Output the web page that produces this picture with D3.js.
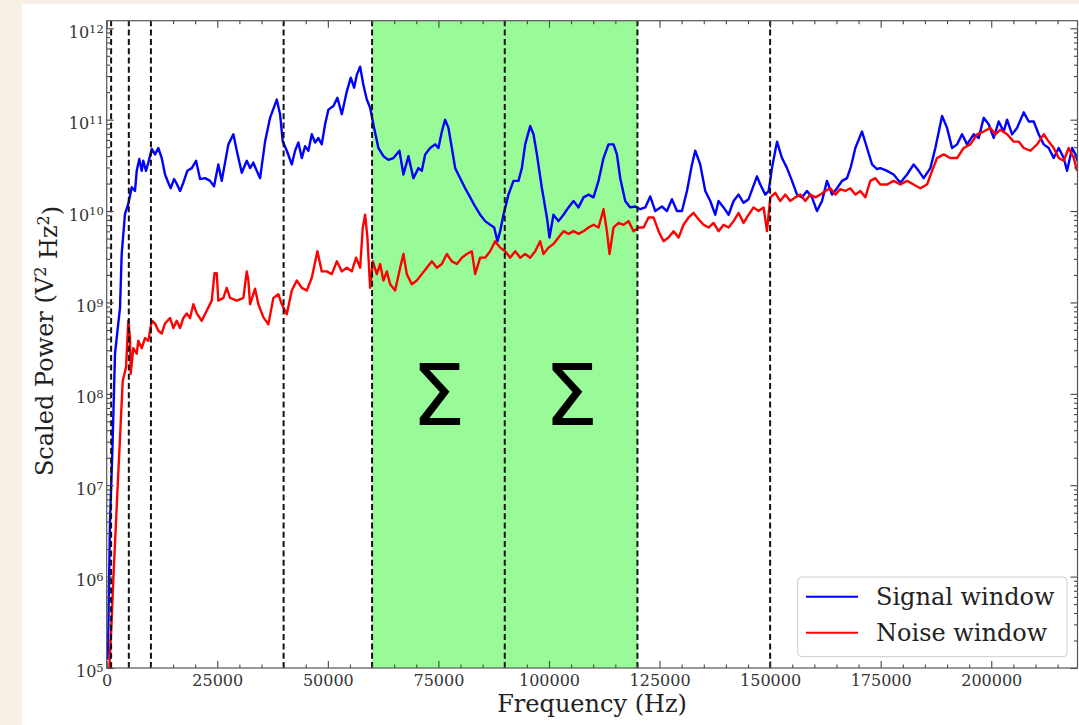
<!DOCTYPE html>
<html><head><meta charset="utf-8">
<script src="https://cdn.jsdelivr.net/npm/d3@7"></script>
<style>
html,body{margin:0;padding:0;background:#f8f0e7;}
svg{display:block;}
</style></head>
<body>
<svg id="chart" width="1079" height="725"></svg>
<script>
// ---------------- data ----------------
const signalFreq = [180,360,750,1270,1880,2620,3010,3390,4140,4890,
5660,6400,6790,7370,7920,8280,8890,9410,10180,10930,
11670,12440,13190,13930,14480,15220,15830,16580,17330,18230,
19230,20200,21110,22240,23370,24270,25240,26010,27510,28640,
29410,30540,31670,32420,33160,33930,34680,35810,36940,38450,
39200,39810,40720,41850,42590,43340,44110,44860,45600,46370,
47120,47860,48630,49380,50130,51260,52160,53160,54290,55190,
55940,56550,57300,58040,58810,59560,60460,61440,62570,63700,
64830,66190,67090,68220,69350,70480,71250,72000,73130,74260,
75010,75780,76520,77270,78040,78790,79920,81050,82180,83310,
84440,85570,86700,87610,88350,88960,89710,90840,91970,93100,
93870,94620,95750,96500,97270,98400,99530,100120,101020,102150,
103280,104410,105550,106680,107810,108940,110070,111200,112330,113460,
114590,115360,116110,117240,118370,119500,120630,121760,122890,124030,
125540,126670,127800,128930,130070,131200,132330,133070,134200,135340,
136470,137600,138340,139480,140610,141740,142870,144000,145130,147030,
147780,148910,149660,150420,151560,152690,153820,154950,156080,157210,
158340,159470,160600,161730,162860,164000,165130,166260,167390,168290,
169270,170780,171910,173040,174170,174920,176440,177930,179440,180960,
182450,183580,184720,186230,187360,188880,190010,191140,192270,193400,
194530,196030,197160,198290,199420,200550,201680,202810,203580,204710,
205840,207340,208470,209600,210730,211860,212990,214120,215250,216380,
217150,218280,219030,219780];
// log10 of scaled power (V^2 Hz^2)
const signalLogPower = [5.09,5.38,6.62,7.35,8.44,8.77,8.94,9.53,9.97,10.08,
10.26,10.22,10.44,10.57,10.44,10.55,10.44,10.53,10.68,10.62,
10.69,10.58,10.40,10.31,10.25,10.35,10.30,10.22,10.31,10.44,
10.47,10.55,10.35,10.36,10.33,10.27,10.51,10.33,10.73,10.84,
10.66,10.42,10.55,10.47,10.53,10.44,10.36,10.76,11.02,11.22,
11.06,10.76,10.66,10.51,10.66,10.75,10.58,10.71,10.66,10.84,
10.75,10.80,10.73,10.95,11.11,11.15,11.24,11.06,11.31,11.46,
11.35,11.49,11.58,11.38,11.22,11.13,10.91,10.69,10.60,10.56,
10.58,10.66,10.40,10.60,10.36,10.47,10.44,10.62,10.69,10.73,
10.69,10.87,11.00,10.91,10.69,10.47,10.36,10.25,10.15,10.05,
9.96,9.89,9.85,9.82,9.67,9.78,9.96,10.18,10.33,10.33,
10.47,10.73,10.93,10.84,10.62,10.25,9.93,9.71,9.96,9.89,
9.96,10.04,10.11,10.04,10.15,10.18,10.15,10.33,10.58,10.73,
10.73,10.62,10.36,10.11,10.04,10.05,10.02,10.04,10.16,10.00,
10.05,10.00,10.13,10.00,10.00,10.22,10.51,10.66,10.51,10.22,
10.11,9.96,10.11,10.04,9.96,10.11,10.18,10.09,10.13,10.38,
10.29,10.18,10.22,10.47,10.76,10.58,10.47,10.33,10.18,10.15,
10.22,10.15,10.00,10.11,10.33,10.18,10.25,10.33,10.36,10.49,
10.69,10.87,10.69,10.51,10.46,10.47,10.44,10.40,10.31,10.40,
10.51,10.44,10.36,10.47,10.69,11.04,10.91,10.69,10.73,10.84,
10.73,10.84,10.80,11.02,10.95,10.80,10.98,10.87,11.00,10.84,
10.91,11.08,10.98,10.98,10.84,10.73,10.69,10.58,10.69,10.58,
10.44,10.69,10.62,10.51];

const noiseFreq = [600,1100,1490,2490,3010,3620,4370,4890,5270,5430,
6020,6790,7150,7920,8660,9410,10180,10930,11670,12440,
13190,14320,15070,15830,16580,17330,18100,18840,19590,20360,
21490,22620,23750,24380,24880,25240,26380,27140,27890,29410,
30900,31670,32030,32420,33550,34290,35420,36550,37690,38820,
39590,40720,41850,42980,44110,45240,46370,47640,48630,49760,
50900,52030,53160,54290,55420,56390,57300,57910,58430,58950,
59560,60170,61070,61830,62570,63340,64080,65210,66350,67090,
67860,68990,70120,71250,72380,73520,74650,75780,76910,78040,
79170,80300,81430,82560,83310,84440,85570,86700,87830,88960,
90100,91230,92360,93490,94620,95750,96880,98010,98760,99890,
101020,102150,103280,104410,105550,106680,107810,108940,110070,111200,
112330,113100,113690,114590,115720,116860,117990,119120,120250,121380,
122510,123640,124770,125900,127030,128170,129300,130430,131560,132690,
133820,134950,136080,137210,138340,139480,140610,141740,142870,144000,
145130,146260,147390,148520,149290,150040,151170,152300,153430,154560,
155690,156820,157960,159090,160220,161350,162480,163610,164740,165870,
167000,168130,169270,170400,171530,172660,173790,174920,176440,177930,
179440,180960,182450,183960,185480,186620,187750,189240,190750,192270,
193760,195280,196790,198290,199800,200930,202070,203580,205070,206200,
207340,208850,210370,211860,212990,214120,215250,216380,217510,218650,
219410];
const noiseLogPower = [5.00,5.50,5.96,7.00,7.52,8.14,8.29,8.80,8.61,8.22,
8.50,8.44,8.58,8.50,8.61,8.58,8.80,8.77,8.69,8.66,
8.77,8.83,8.72,8.80,8.72,8.83,8.88,8.83,8.98,8.88,
8.80,8.91,9.02,9.32,9.32,9.02,9.05,9.16,9.05,9.02,
9.05,9.34,9.24,8.98,9.15,8.98,8.84,8.76,9.05,9.09,
8.98,8.87,9.13,9.24,9.16,9.13,9.27,9.56,9.34,9.34,
9.31,9.45,9.34,9.38,9.34,9.49,9.38,9.82,9.96,9.71,
9.16,9.45,9.31,9.42,9.24,9.34,9.20,9.13,9.38,9.53,
9.31,9.20,9.24,9.31,9.38,9.45,9.38,9.42,9.53,9.45,
9.42,9.49,9.53,9.56,9.31,9.49,9.49,9.56,9.67,9.60,
9.56,9.49,9.56,9.49,9.53,9.49,9.56,9.67,9.53,9.60,
9.64,9.71,9.78,9.75,9.78,9.75,9.78,9.82,9.85,9.82,
10.02,9.78,9.53,9.82,9.87,9.85,9.89,9.78,9.82,9.82,
9.93,9.93,9.78,9.67,9.71,9.78,9.71,9.85,9.93,9.98,
9.91,9.85,9.82,9.87,9.78,9.85,9.82,9.89,9.98,9.87,
9.96,10.04,10.00,10.04,9.78,10.15,10.20,10.11,10.18,10.11,
10.15,10.18,10.11,10.18,10.15,10.18,10.22,10.25,10.18,10.24,
10.22,10.25,10.18,10.22,10.15,10.33,10.36,10.29,10.29,10.33,
10.29,10.33,10.29,10.25,10.29,10.44,10.58,10.62,10.58,10.58,
10.69,10.73,10.84,10.87,10.91,10.84,10.89,10.84,10.76,10.76,
10.69,10.66,10.73,10.84,10.76,10.69,10.58,10.55,10.69,10.58,
10.44];

const markerFreqs = [1000, 5000, 10000, 40000, 60000, 90000, 120000, 150000];
const sumBands = [[60000, 90000], [90000, 120000]];
const xTickValues = [0, 25000, 50000, 75000, 100000, 125000, 150000, 175000, 200000];
const yTickExponents = [5, 6, 7, 8, 9, 10, 11, 12];
const seriesNames = ["Signal window", "Noise window"];
const seriesColors = ["#0000ff", "#ff0000"];
const xLabel = "Frequency (Hz)";

// ---------------- layout ----------------
const W = 1079, H = 725;
const P = {left: 106.7, right: 1077.5, top: 20.7, bottom: 668};
const SERIF = "'DejaVu Serif', serif";

const svg = d3.select("#chart");
svg.append("rect").attr("width", W).attr("height", H).attr("fill", "#f8f0e7");
svg.append("rect").attr("x", 22).attr("y", 4).attr("width", W - 22).attr("height", H - 4).attr("fill", "#ffffff");

const x = d3.scaleLinear().domain([0, 219500]).range([P.left, P.right]);
const y = d3.scaleLog().domain([1e5, Math.pow(10, 12.083)]).range([P.bottom, P.top]);

svg.append("defs").append("clipPath").attr("id", "clip")
  .append("rect").attr("x", P.left).attr("y", P.top)
  .attr("width", P.right - P.left).attr("height", P.bottom - P.top);

const plotG = svg.append("g").attr("clip-path", "url(#clip)");

// shaded summation bands
plotG.selectAll("rect.band").data(sumBands).join("rect").attr("class", "band")
  .attr("x", d => x(d[0])).attr("width", d => x(d[1]) - x(d[0]))
  .attr("y", P.top).attr("height", P.bottom - P.top)
  .attr("fill", "#98fb98");

// series
const signal = signalFreq.map((f, i) => ({f, p: Math.pow(10, signalLogPower[i])}));
const noise = noiseFreq.map((f, i) => ({f, p: Math.pow(10, noiseLogPower[i])}));
const line = d3.line().x(d => x(d.f)).y(d => y(d.p));
[signal, noise].forEach((s, i) => {
  plotG.append("path").datum(s).attr("d", line)
    .attr("fill", "none").attr("stroke", seriesColors[i])
    .attr("stroke-width", 2.4).attr("stroke-linejoin", "round");
});

// dashed markers
plotG.selectAll("line.marker").data(markerFreqs).join("line").attr("class", "marker")
  .attr("x1", d => x(d)).attr("x2", d => x(d))
  .attr("y1", P.bottom).attr("y2", P.top)
  .attr("stroke", "#111").attr("stroke-width", 2).attr("stroke-dasharray", "6,3.3");

// sigma symbols
plotG.selectAll("text.sigma").data(sumBands).join("text").attr("class", "sigma")
  .attr("x", d => x((d[0] + d[1]) / 2)).attr("y", y(1e8))
  .attr("dy", "0.365em").attr("text-anchor", "middle")
  .attr("font-family", "'DejaVu Sans', sans-serif").attr("font-size", 86)
  .attr("fill", "#000").text("Σ");

// ---------------- axes ----------------
const tickColor = "#444";
const xMinor = d3.range(0, 219500, 5000).filter(v => v % 25000 !== 0);
const yMajor = yTickExponents.map(e => Math.pow(10, e));
const yMinor = [];
yTickExponents.forEach(e => { for (let m = 2; m <= 9; m++) { const v = m * Math.pow(10, e); if (v <= y.domain()[1]) yMinor.push(v); } });

function styleAxis(g) {
  g.select(".domain").remove();
  g.selectAll(".tick line").attr("stroke", tickColor).attr("stroke-width", 1.1);
  g.selectAll("text").attr("font-family", SERIF).attr("font-size", 16).attr("fill", "#333");
}

svg.append("g").attr("transform", `translate(0,${P.bottom})`)
  .call(d3.axisBottom(x).tickValues(xTickValues).tickSize(-7).tickPadding(7).tickFormat(d3.format("d")))
  .call(styleAxis);
svg.append("g").attr("transform", `translate(0,${P.bottom})`)
  .call(d3.axisBottom(x).tickValues(xMinor).tickSize(-3.5).tickFormat(""))
  .call(styleAxis);
svg.append("g").attr("transform", `translate(0,${P.top})`)
  .call(d3.axisTop(x).tickValues(xTickValues).tickSize(-7).tickFormat(""))
  .call(styleAxis);
svg.append("g").attr("transform", `translate(0,${P.top})`)
  .call(d3.axisTop(x).tickValues(xMinor).tickSize(-3.5).tickFormat(""))
  .call(styleAxis);

const yLeft = svg.append("g").attr("transform", `translate(${P.left},0)`)
  .call(d3.axisLeft(y).tickValues(yMajor).tickSize(-7).tickPadding(3).tickFormat(""))
  .call(styleAxis);
yLeft.selectAll(".tick").each(function(d) {
  const t = d3.select(this).append("text")
    .attr("x", -3).attr("dy", "0.56em").attr("text-anchor", "end")
    .attr("font-family", SERIF).attr("font-size", 16).attr("fill", "#333");
  t.append("tspan").text("10");
  t.append("tspan").attr("dy", "-0.45em").attr("font-size", 11.5).text(String(Math.round(Math.log10(d))));
});
svg.append("g").attr("transform", `translate(${P.left},0)`)
  .call(d3.axisLeft(y).tickValues(yMinor).tickSize(-3.5).tickFormat(""))
  .call(styleAxis);
svg.append("g").attr("transform", `translate(${P.right},0)`)
  .call(d3.axisRight(y).tickValues(yMajor).tickSize(-7).tickFormat(""))
  .call(styleAxis);
svg.append("g").attr("transform", `translate(${P.right},0)`)
  .call(d3.axisRight(y).tickValues(yMinor).tickSize(-3.5).tickFormat(""))
  .call(styleAxis);

// frame
svg.append("rect").attr("x", P.left).attr("y", P.top)
  .attr("width", P.right - P.left).attr("height", P.bottom - P.top)
  .attr("fill", "none").attr("stroke", "#555").attr("stroke-width", 1.2);

// axis titles
svg.append("text").attr("x", (P.left + P.right) / 2 + 0).attr("y", 712)
  .attr("text-anchor", "middle").attr("font-family", SERIF).attr("font-size", 24)
  .attr("fill", "#222").text(xLabel);

const yt = svg.append("text").attr("transform", "translate(53,341) rotate(-90)")
  .attr("text-anchor", "middle").attr("font-family", SERIF).attr("font-size", 24).attr("fill", "#222");
yt.append("tspan").text("Scaled Power (V");
yt.append("tspan").attr("dy", "-0.45em").attr("font-size", 16).text("2");
yt.append("tspan").attr("dy", "0.45em").text(" Hz");
yt.append("tspan").attr("dy", "-0.45em").attr("font-size", 16).text("2");
yt.append("tspan").attr("dy", "0.45em").text(")");

// legend
const lg = svg.append("g");
lg.append("rect").attr("x", 797.7).attr("y", 577).attr("width", 269.3).attr("height", 79.7)
  .attr("rx", 4).attr("fill", "#fff").attr("fill-opacity", 0.85).attr("stroke", "#ccc").attr("stroke-width", 1);
seriesNames.forEach((name, i) => {
  const yy = 596.7 + i * 36;
  lg.append("line").attr("x1", 806).attr("x2", 858).attr("y1", yy).attr("y2", yy)
    .attr("stroke", seriesColors[i]).attr("stroke-width", 2);
  lg.append("text").attr("x", 876).attr("y", yy).attr("dy", "0.35em")
    .attr("font-family", SERIF).attr("font-size", 24).attr("fill", "#222").text(name);
});
</script>
</body></html>
